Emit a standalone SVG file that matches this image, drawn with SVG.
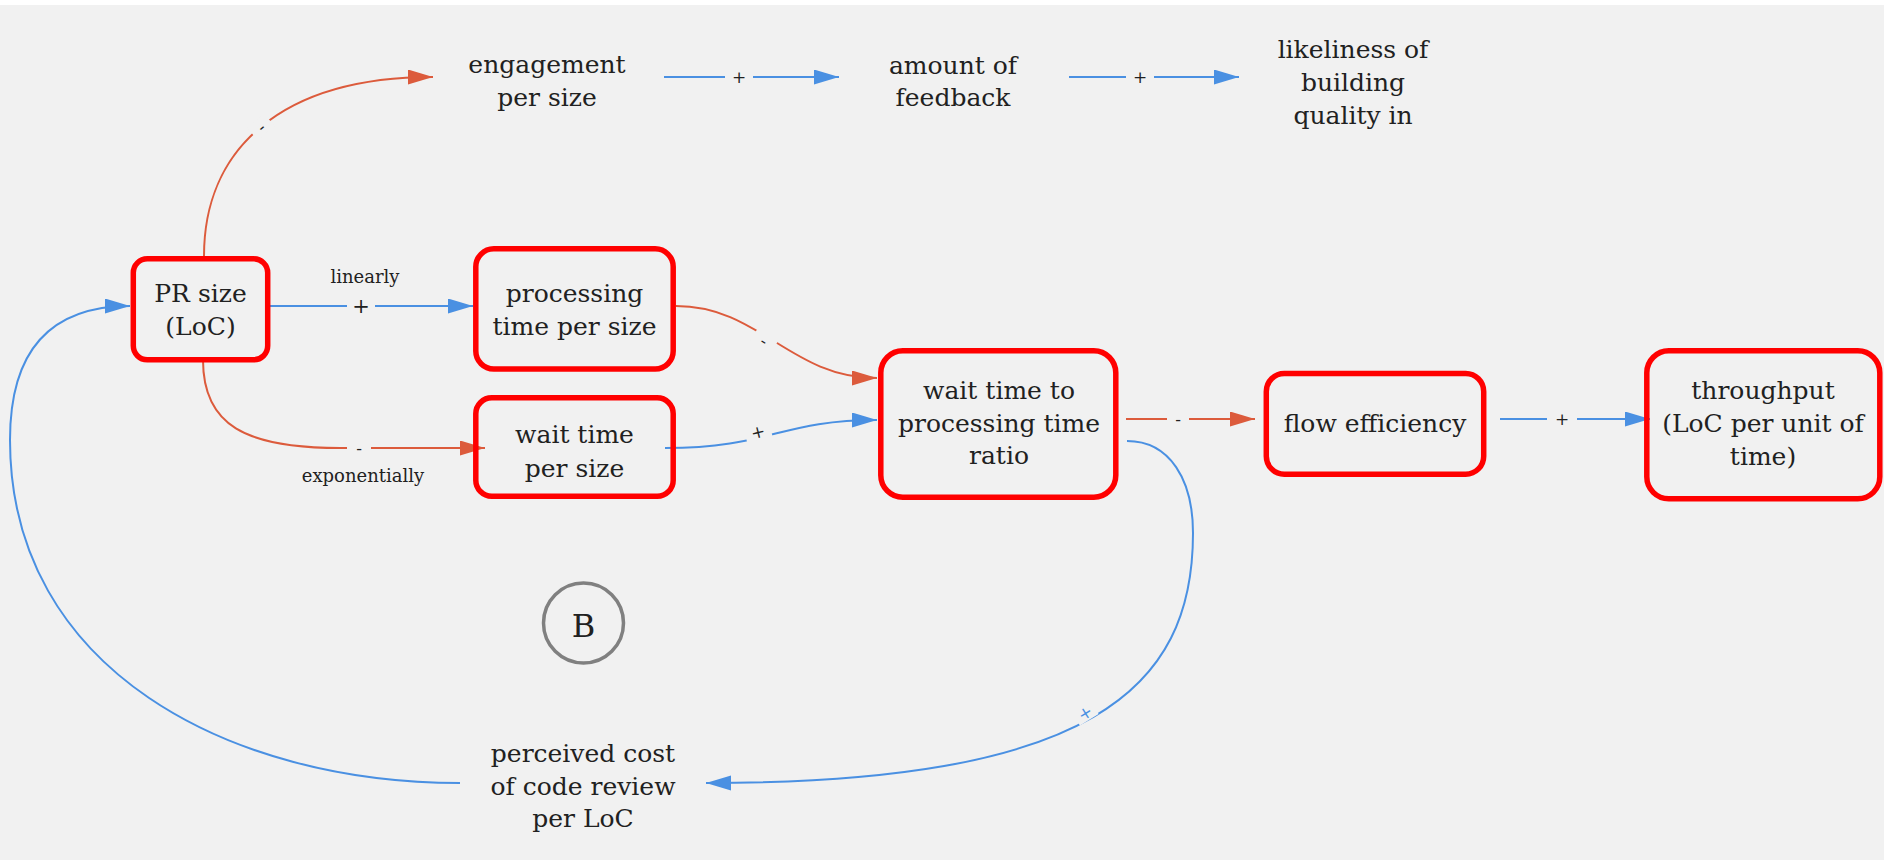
<svg xmlns="http://www.w3.org/2000/svg" width="1884" height="860" viewBox="0 0 1884 860">
  <style>
    .bg { fill: #f1f1f1; }
    .node rect { fill: none; stroke: #ff0000; stroke-width: 5.5; }
    .t { font-family: "DejaVu Serif", "Liberation Serif", serif; font-size: 25px; fill: #212121; text-anchor: middle; }
    .note { font-family: "DejaVu Serif", "Liberation Serif", serif; font-size: 18px; fill: #212121; text-anchor: middle; }
    .pos { fill: none; stroke: #4a90e2; stroke-width: 2; }
    .neg { fill: none; stroke: #dc5b3c; stroke-width: 2; }
    .lbl { font-family: "DejaVu Serif", "Liberation Serif", serif; font-size: 17px; fill: #212121; text-anchor: middle; dominant-baseline: central; }
    .gap { fill: #f1f1f1; }
  </style>
  <defs>
    <marker id="arrow-pos" markerUnits="userSpaceOnUse" markerWidth="27" markerHeight="16" refX="25" refY="7.5" orient="auto">
      <path d="M0,0 L25,7.5 L0,15 Z" fill="#4a90e2"/>
    </marker>
    <marker id="arrow-neg" markerUnits="userSpaceOnUse" markerWidth="27" markerHeight="16" refX="25" refY="7.5" orient="auto">
      <path d="M0,0 L25,7.5 L0,15 Z" fill="#dc5b3c"/>
    </marker>
  </defs>

  <rect x="0" y="0" width="1884" height="860" fill="#ffffff"/>
  <rect class="bg" x="0" y="5" width="1884" height="855"/>

  <!-- connectors -->
  <g id="connectors">
    <path class="pos" d="M270,306 L473,306" marker-end="url(#arrow-pos)"/>
    <path class="neg" d="M203,360 C203,425 245,448 340,448 L485,448" marker-end="url(#arrow-neg)"/>
    <path class="neg" d="M204,256 C204,150 280,77 433,77" marker-end="url(#arrow-neg)"/>
    <path class="pos" d="M664,77 L839,77" marker-end="url(#arrow-pos)"/>
    <path class="pos" d="M1069,77 L1239,77" marker-end="url(#arrow-pos)"/>
    <path class="neg" d="M676,306 C760,306 790,378 877,378" marker-end="url(#arrow-neg)"/>
    <path class="pos" d="M665,448 C770,448 780,420 877,420" marker-end="url(#arrow-pos)"/>
    <path class="neg" d="M1126,419 L1255,419" marker-end="url(#arrow-neg)"/>
    <path class="pos" d="M1500,419 L1650,419" marker-end="url(#arrow-pos)"/>
    <path class="pos" d="M1127,441 C1170,441 1193,480 1193,533 C1193,690 1090,783 706,783" marker-end="url(#arrow-pos)"/>
    <path class="pos" d="M460,783 C230,783 10,670 10,440 C10,340 60,306 130,306" marker-end="url(#arrow-pos)"/>

    <!-- polarity labels -->
    <g transform="translate(361,306)"><rect class="gap" x="-14" y="-9" width="28" height="18"/><text class="lbl" style="font-size:21px">+</text></g>
    <text class="note" x="365" y="283">linearly</text>
    <g transform="translate(359,448)"><rect class="gap" x="-12" y="-9" width="24" height="18"/><text class="lbl">-</text></g>
    <text class="note" x="363" y="482">exponentially</text>
    <g transform="translate(261,127) rotate(-40)"><rect class="gap" x="-11" y="-8" width="22" height="16"/><text class="lbl">-</text></g>
    <g transform="translate(739,77)"><rect class="gap" x="-14" y="-8" width="28" height="16"/><text class="lbl">+</text></g>
    <g transform="translate(1140,77)"><rect class="gap" x="-14" y="-8" width="28" height="16"/><text class="lbl">+</text></g>
    <g transform="translate(764,341) rotate(32)"><rect class="gap" x="-12" y="-8" width="24" height="16"/><text class="lbl">-</text></g>
    <g transform="translate(758,432) rotate(-14)"><rect class="gap" x="-13" y="-8" width="26" height="16"/><text class="lbl">+</text></g>
    <g transform="translate(1178,419)"><rect class="gap" x="-11" y="-8" width="22" height="16"/><text class="lbl">-</text></g>
    <g transform="translate(1562,419)"><rect class="gap" x="-15" y="-8" width="30" height="16"/><text class="lbl">+</text></g>
    <g transform="translate(1085,713) rotate(-32)"><rect class="gap" x="-11" y="-8" width="22" height="16"/><text class="lbl" style="fill:#4a90e2">+</text></g>
  </g>

  <!-- plain variables -->
  <g id="engagement">
    <text class="t" x="547" y="73">engagement</text>
    <text class="t" x="547" y="106">per size</text>
  </g>
  <g id="feedback">
    <text class="t" x="953" y="74">amount of</text>
    <text class="t" x="953" y="106">feedback</text>
  </g>
  <g id="quality">
    <text class="t" x="1353" y="58">likeliness of</text>
    <text class="t" x="1353" y="91">building</text>
    <text class="t" x="1353" y="123.5">quality in</text>
  </g>
  <g id="perceived-cost">
    <text class="t" x="583" y="762">perceived cost</text>
    <text class="t" x="583" y="795">of code review</text>
    <text class="t" x="583" y="827">per LoC</text>
  </g>

  <!-- key variables -->
  <g id="pr-size" class="node">
    <rect x="133.3" y="258.8" width="134.4" height="101" rx="14"/>
    <text class="t" x="200.5" y="302">PR size</text>
    <text class="t" x="200.5" y="335">(LoC)</text>
  </g>
  <g id="processing-time" class="node">
    <rect x="475.8" y="248.8" width="197.4" height="120.2" rx="18"/>
    <text class="t" x="574.5" y="302">processing</text>
    <text class="t" x="574.5" y="335">time per size</text>
  </g>
  <g id="wait-time" class="node">
    <rect x="475.8" y="397.8" width="197.4" height="98.4" rx="16"/>
    <text class="t" x="574.5" y="443">wait time</text>
    <text class="t" x="574.5" y="477">per size</text>
  </g>
  <g id="ratio" class="node">
    <rect x="880.8" y="350.8" width="235" height="146.4" rx="22"/>
    <text class="t" x="999" y="399">wait time to</text>
    <text class="t" x="999" y="431.5">processing time</text>
    <text class="t" x="999" y="464">ratio</text>
  </g>
  <g id="flow-efficiency" class="node">
    <rect x="1266.3" y="373.5" width="217.4" height="100.7" rx="18"/>
    <text class="t" x="1375" y="432">flow efficiency</text>
  </g>
  <g id="throughput" class="node">
    <rect x="1646.8" y="350.8" width="233" height="148" rx="22"/>
    <text class="t" x="1763" y="398.5">throughput</text>
    <text class="t" x="1763" y="431.5">(LoC per unit of</text>
    <text class="t" x="1763" y="465">time)</text>
  </g>

  <!-- loop marker -->
  <g id="loop-b">
    <circle cx="583.5" cy="623" r="40" fill="none" stroke="#808080" stroke-width="3.5"/>
    <text x="583.5" y="636.5" font-family="DejaVu Serif, Liberation Serif, serif" font-size="32" fill="#212121" text-anchor="middle">B</text>
  </g>
</svg>
